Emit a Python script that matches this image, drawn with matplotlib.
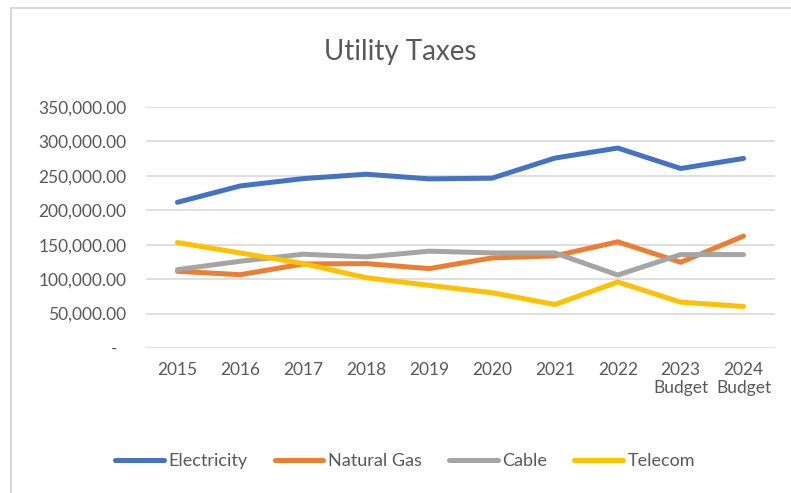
import matplotlib
matplotlib.use("Agg")
import matplotlib.pyplot as plt
from matplotlib.patches import Rectangle
from matplotlib.ticker import FuncFormatter

""" Data """

years = ["2015", "2016", "2017", "2018", "2019", "2020", "2021", "2022",
         "2023\nBudget", "2024\nBudget"]
electricity = [211600, 235400, 246000, 252400, 245600, 246600, 275800, 290400, 260700, 275300]
natural_gas = [111400, 106500, 122000, 122600, 115300, 130800, 133800, 154200, 124500, 162500]
cable = [113800, 126000, 136200, 132300, 140600, 138100, 138100, 106000, 135700, 135700]
telecom = [153200, 138000, 122600, 102100, 91000, 80300, 63200, 95800, 66600, 60300]

series = [("Electricity", electricity, "#4472c4"),
          ("Natural Gas", natural_gas, "#ed7d31"),
          ("Cable", cable, "#a5a5a5"),
          ("Telecom", telecom, "#ffc000")]

plt.rcParams["font.family"] = ["Lato", "DejaVu Sans"]


def fmt(v, pos):
    if v == 0:
        return "-  "
    return f"{v:,.2f}"


fig = plt.figure(figsize=(7.91, 4.93), dpi=100)
fig.patches.append(Rectangle((11 / 791, -0.1), 1.2, 1 - 8 / 493 + 0.1,
                             transform=fig.transFigure, fill=False,
                             edgecolor="#d9d9d9", linewidth=1.5))

ax = fig.add_axes([146 / 791, 1 - 348 / 493, (775 - 146) / 791, (348 - 107) / 493])
x = list(range(len(years)))
for name, vals, color in series:
    ax.plot(x, vals, color=color, linewidth=3.6, label=name,
            solid_capstyle="round", solid_joinstyle="round")

ax.set_xlim(-0.5, len(years) - 0.5)
ax.set_ylim(0, 350000)
ax.set_yticks(range(0, 350001, 50000))
ax.yaxis.set_major_formatter(FuncFormatter(fmt))
ax.set_xticks(x)
ax.set_xticklabels(years)
ax.grid(axis="y", color="#d9d9d9", linewidth=1.2)
ax.set_axisbelow(True)
for s in ax.spines.values():
    s.set_visible(False)
ax.tick_params(axis="both", length=0, labelsize=12.5, labelcolor="#595959")
ax.tick_params(axis="x", pad=10)
ax.tick_params(axis="y", pad=14)

fig.text(400 / 791, 1 - 52 / 493, "Utility Taxes", ha="center", va="center",
         fontsize=20, color="#595959")

fig.legend(loc="center", bbox_to_anchor=(405 / 791, 1 - 461 / 493), ncol=4,
           frameon=False, fontsize=13, labelcolor="#595959",
           handlelength=2.7, handletextpad=0.25, columnspacing=1.5)

fig.savefig("out.png", dpi=100, facecolor="white")
